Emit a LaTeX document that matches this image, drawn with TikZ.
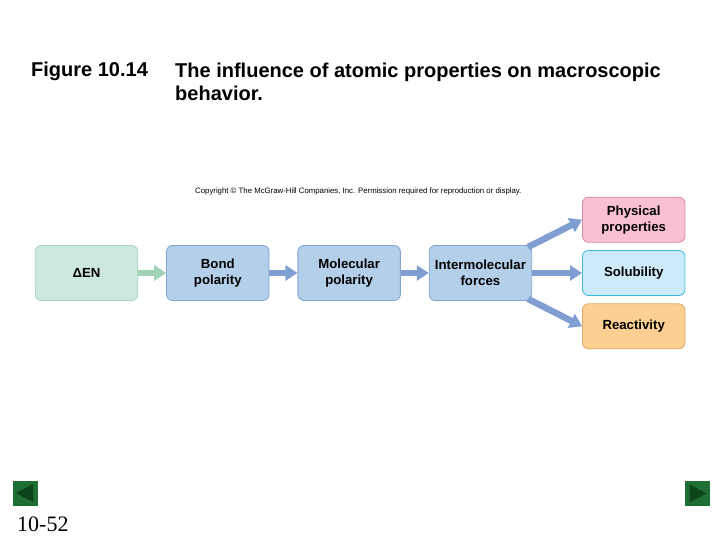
\documentclass[tikz,border=0pt]{standalone}
\usepackage{fontspec}
\setmainfont{Liberation Sans}
\newfontfamily\numfont{Liberation Serif}
\usepackage{tikz}
\usetikzlibrary{positioning,arrows.meta}
\usepackage{xcolor}

\definecolor{greenfill}{HTML}{CDE9DD}
\definecolor{greenline}{HTML}{A6D3BE}
\definecolor{bluefill}{HTML}{B3CFE9}
\definecolor{blueline}{HTML}{7FA6D1}
\definecolor{pinkfill}{HTML}{F8C0D0}
\definecolor{pinkline}{HTML}{D98AA1}
\definecolor{cyanfill}{HTML}{CDEAFB}
\definecolor{cyanline}{HTML}{3DB7DD}
\definecolor{orangefill}{HTML}{FDD091}
\definecolor{orangeline}{HTML}{E0A967}
\definecolor{greenarrow}{HTML}{9FD2B6}
\definecolor{bluearrow}{HTML}{7F9FD3}
\definecolor{navgreen}{HTML}{1F6E33}
\definecolor{navdark}{HTML}{0E4419}

\begin{document}
\begin{tikzpicture}[
        x=1pt, y=-1pt,
        node distance=28pt,
        box/.style={draw, rounded corners=6pt, line width=0.8pt, minimum width=102.5pt,
            minimum height=55pt, align=center, font=\fontsize{13.2}{16}\selectfont\bfseries},
        result/.style={box, minimum height=45pt},
        fat arrow/.style={line width=6.5pt, -{Triangle[length=12pt, width=15pt]}},
        navbox/.style={fill=navgreen, minimum size=25pt, inner sep=0pt}
    ]
        \useasboundingbox (0,0) rectangle (720,540);

        % Title
        \node[anchor=base west, inner sep=0pt, font=\fontsize{20}{23}\selectfont\bfseries] (fig) at (31,77) {Figure 10.14};
        \node[anchor=north west, align=left, inner sep=0pt, font=\fontsize{20}{23}\selectfont\bfseries]
            (title) at (175,62.5) {The influence of atomic properties on macroscopic\\behavior.};
        \node[anchor=base west, inner sep=0pt, font=\fontsize{7.8}{9}\selectfont] (copy) at (195,194)
            {Copyright \textcopyright{} The McGraw-Hill Companies, Inc. Permission required for reproduction or display.};

        % Chain of boxes
        \node[box, fill=greenfill, draw=greenline] (den) at (86.5,273) {ΔEN};
        \node[box, fill=bluefill, draw=blueline, right=of den] (bond) {Bond\\polarity};
        \node[box, fill=bluefill, draw=blueline, right=of bond] (molpol) {Molecular\\polarity};
        \node[box, fill=bluefill, draw=blueline, right=of molpol] (imf) {Intermolecular\\forces};

        % Results
        \node[result, fill=cyanfill, draw=cyanline, right=50pt of imf] (solub) {Solubility};
        \node[result, fill=pinkfill, draw=pinkline, above=7.5pt of solub] (phys) {Physical\\properties};
        \node[result, fill=orangefill, draw=orangeline, below=7.5pt of solub] (react) {Reactivity};

        % Arrows
        \draw[fat arrow, greenarrow] (den) -- (bond);
        \draw[fat arrow, bluearrow] (bond) -- (molpol);
        \draw[fat arrow, bluearrow] (molpol) -- (imf);
        \draw[fat arrow, bluearrow] (imf.north east) ++(-4,2) coordinate (a1) (a1) -- (phys.west);
        \draw[fat arrow, bluearrow] (imf) -- (solub);
        \draw[fat arrow, bluearrow] (imf.south east) ++(-4,-2) coordinate (a3) (a3) -- (react.west);

        % Navigation
        \node[navbox] (prev) at (25,493) {};
        \fill[navdark] ([xshift=-9pt]prev.center) -- ([xshift=8pt,yshift=-9pt]prev.center)
            -- ([xshift=8pt,yshift=9pt]prev.center) -- cycle;
        \node[navbox] (next) at (697.5,493.5) {};
        \fill[navdark] ([xshift=9pt]next.center) -- ([xshift=-8pt,yshift=-9pt]next.center)
            -- ([xshift=-8pt,yshift=9pt]next.center) -- cycle;
        \node[anchor=base west, inner sep=0pt, font=\numfont\fontsize{22}{24}\selectfont] (page) at (17,531) {10-52};
\end{tikzpicture}
\end{document}
